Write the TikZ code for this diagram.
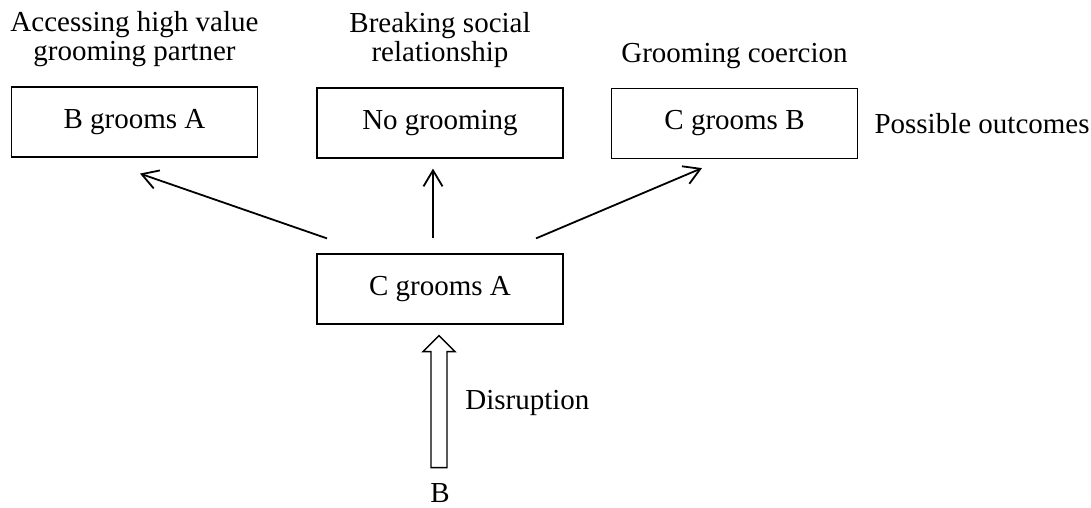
\documentclass[tikz,border=0pt]{standalone}
\usepackage{fontspec}
\setmainfont{Liberation Serif}
\usetikzlibrary{positioning,calc,arrows.meta}

\tikzset{
  outcome/.style={draw, line width=0.6pt, minimum width=123pt, minimum height=35pt, inner sep=0pt},
  caption/.style={align=center, inner sep=0pt},
  choice/.style={-{Straight Barb[length=8pt,width=9.5pt]}, line width=0.9pt},
  hollow/.style={draw, line width=0.7pt, fill=white}
}

\begin{document}
\begin{tikzpicture}[x=0.5pt, y=-0.5pt, font=\fontsize{14.5}{14.6}\selectfont]
    \useasboundingbox (0,0) rectangle (1091,508);
    % the three outcomes
    \node[outcome] (bA) at (134.5,122) {B grooms A};
    \node[outcome] (nG) at (440,123) {No grooming};
    \node[outcome] (cB) at (734.5,123.5) {C grooms B};
    \node[outcome] (cA) at (440,289) {C grooms A};
    % captions
    \node[caption, above=9.5pt of bA] (capA) {Accessing high value\\grooming partner};
    \node[caption, above=9.5pt of nG] (capN) {Breaking social\\relationship};
    \node[caption, above=9.5pt of cB] (capC) {Grooming coercion};
    \node[caption, right=8pt of cB] (poss) {Possible outcomes};
    \draw[choice] ($(cA.north)+(-113,-15)$) -- ($(bA.south)+(5.5,16)$);
    \draw[choice] ($(cA.north)+(-7,-15)$) -- ($(nG.south)+(-7,10)$);
    \draw[choice] ($(cA.north)+(96,-15)$) -- ($(cB.south)+(-32.5,9)$);
    % disruption by B
    \node[inner sep=0pt, anchor=base] (B) at (440,502) {B};
    \coordinate (dtail) at ($(B.north)+(-1,-15)$);
    \coordinate (dtip) at ($(cA.south)+(-1,11)$);
    \draw[hollow] ($(dtail)+(-8,0)$) -- ($(dtip)+(-8,16)$) -- ++(-8,0) -- (dtip)
      -- ++(16,16) -- ++(-8,0) -- ($(dtail)+(8,0)$) -- cycle;
    \node[inner sep=0pt, anchor=west] (dis) at (465,403) {Disruption};
  \end{tikzpicture}
\end{document}
